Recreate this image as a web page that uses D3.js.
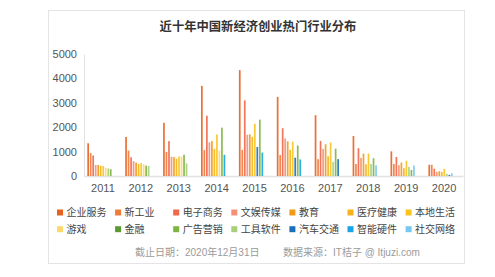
<!DOCTYPE html>
<html>
<head>
<meta charset="utf-8">
<script src="https://cdn.jsdelivr.net/npm/d3@7"></script>
<style>
  body { margin: 0; background: #fff; }
  svg { display: block; font-family: "Liberation Sans", "Noto Sans CJK SC", sans-serif; }
</style>
</head>
<body>
<div class="chart"></div>
<script>
// industries, in legend order
var industries = ["企业服务", "新工业", "电子商务", "文娱传媒", "教育", "医疗健康", "本地生活",
                  "游戏", "金融", "广告营销", "工具软件", "汽车交通", "智能硬件", "社交网络"];
var industryColors = ["#e8621f", "#ef7b3a", "#f0674b", "#f49079", "#f39a14", "#f6b21b", "#f8c41d",
                      "#fdd96c", "#5b9a33", "#7db544", "#a7d07b", "#1a70b8", "#18a4e6", "#76c9ee"];

var years = ["2011", "2012", "2013", "2014", "2015", "2016", "2017", "2018", "2019", "2020"];
var yTicks = [0, 1000, 2000, 3000, 4000, 5000];

// top 10 industries shown for each year (slot order) and their counts
var cats2011 = ["企业服务", "新工业", "电子商务", "文娱传媒", "教育", "医疗健康", "本地生活", "游戏", "工具软件", "广告营销"];
var vals2011 = [1340, 940, 840, 450, 450, 420, 410, 340, 310, 280];
var cats2012 = ["企业服务", "新工业", "电子商务", "文娱传媒", "教育", "医疗健康", "本地生活", "游戏", "广告营销", "工具软件"];
var vals2012 = [1600, 1040, 770, 610, 550, 495, 530, 480, 425, 410];
var cats2013 = ["企业服务", "新工业", "电子商务", "文娱传媒", "教育", "医疗健康", "本地生活", "游戏", "广告营销", "工具软件"];
var vals2013 = [2180, 990, 1430, 790, 780, 710, 800, 800, 870, 520];
var cats2014 = ["企业服务", "新工业", "电子商务", "文娱传媒", "教育", "医疗健康", "本地生活", "游戏", "广告营销", "智能硬件"];
var vals2014 = [3690, 1060, 2470, 1380, 1430, 1110, 1700, 1040, 1980, 870];
var cats2015 = ["企业服务", "新工业", "电子商务", "文娱传媒", "教育", "医疗健康", "本地生活", "汽车交通", "广告营销", "智能硬件"];
var vals2015 = [4340, 1070, 3100, 1690, 1710, 1600, 2140, 1190, 2310, 960];
var cats2016 = ["企业服务", "新工业", "电子商务", "文娱传媒", "教育", "医疗健康", "本地生活", "汽车交通", "广告营销", "智能硬件"];
var vals2016 = [3240, 860, 1960, 1540, 1420, 1070, 1410, 750, 1250, 680];
var cats2017 = ["企业服务", "新工业", "电子商务", "文娱传媒", "教育", "医疗健康", "本地生活", "工具软件", "广告营销", "汽车交通"];
var vals2017 = [2490, 690, 1440, 1110, 1300, 810, 1370, 580, 1120, 690];
var cats2018 = ["企业服务", "新工业", "电子商务", "文娱传媒", "教育", "医疗健康", "本地生活", "工具软件", "广告营销", "社交网络"];
var vals2018 = [1640, 490, 1140, 740, 920, 480, 920, 490, 730, 440];
var cats2019 = ["企业服务", "新工业", "电子商务", "文娱传媒", "教育", "医疗健康", "本地生活", "工具软件", "广告营销", "社交网络"];
var vals2019 = [1010, 490, 780, 440, 550, 320, 620, 370, 250, 430];
var cats2020 = ["企业服务", "新工业", "电子商务", "文娱传媒", "教育", "医疗健康", "本地生活", "工具软件", "汽车交通", "社交网络"];
var vals2020 = [460, 460, 300, 170, 195, 165, 290, 90, 45, 110];

var yearCats = [cats2011, cats2012, cats2013, cats2014, cats2015, cats2016, cats2017, cats2018, cats2019, cats2020];
var yearVals = [vals2011, vals2012, vals2013, vals2014, vals2015, vals2016, vals2017, vals2018, vals2019, vals2020];

var width = 495, height = 277;
var margin = {left: 84, right: 32, top: 54, bottom: 101};

var svg = d3.select(".chart").append("svg")
    .attr("width", width)
    .attr("height", height);

// card frame
svg.append("rect")
    .attr("x", 48.5).attr("y", 10.5)
    .attr("width", 416).attr("height", 253)
    .attr("fill", "#fff")
    .attr("stroke", "#e4e4e4");

svg.append("text")
    .attr("x", 258).attr("y", 30.5)
    .attr("text-anchor", "middle")
    .attr("font-size", 12.3)
    .attr("font-weight", "bold")
    .attr("fill", "#333")
    .text("近十年中国新经济创业热门行业分布");

var x0 = d3.scaleBand()
    .domain(years)
    .range([margin.left, width - margin.right]);

var x1 = d3.scaleBand()
    .domain(d3.range(10))
    .range([3.3, 27.6])
    .paddingInner(0.32);

var y = d3.scaleLinear()
    .domain([0, 5000])
    .range([height - margin.bottom, margin.top]);

var color = d3.scaleOrdinal()
    .domain(industries)
    .range(industryColors);

// y axis
var yAxis = svg.append("g")
    .attr("transform", "translate(" + margin.left + ",0)")
    .call(d3.axisLeft(y).tickValues(yTicks).tickSize(0).tickPadding(7).tickFormat(d3.format("d")));
yAxis.select(".domain").attr("stroke", "#e2e2e2");
yAxis.selectAll("text")
    .attr("font-size", 11)
    .attr("fill", "#555")
    .style("font-family", "Liberation Sans, sans-serif");

// x axis
var xAxis = svg.append("g")
    .attr("transform", "translate(0," + y(0) + ")")
    .call(d3.axisBottom(x0).tickSize(0).tickPadding(8));
xAxis.select(".domain").attr("stroke", "#e2e2e2").attr("stroke-width", 1.5);
xAxis.selectAll("text")
    .attr("font-size", 11)
    .attr("fill", "#555")
    .style("font-family", "Liberation Sans, sans-serif");

// bars
var groups = svg.append("g")
    .selectAll("g")
    .data(years)
    .join("g")
    .attr("transform", d => "translate(" + x0(d) + ",0)");

groups.selectAll("rect")
    .data((d, i) => yearVals[i].map((v, j) => ({cat: yearCats[i][j], value: v, slot: j})))
    .join("rect")
    .attr("x", d => x1(d.slot))
    .attr("width", x1.bandwidth())
    .attr("y", d => y(d.value))
    .attr("height", d => y(0) - y(d.value))
    .attr("fill", d => color(d.cat))
    .attr("opacity", 0.9);

// legend, 2 rows of 7
var legend = svg.append("g");
var item = legend.selectAll("g")
    .data(industries)
    .join("g")
    .attr("transform", (d, i) => "translate(" + (57 + (i % 7) * 58.1) + "," + (209.5 + Math.floor(i / 7) * 16.7) + ")");
item.append("rect")
    .attr("width", 6).attr("height", 6)
    .attr("fill", d => color(d));
item.append("text")
    .attr("x", 9.5).attr("y", 6.5)
    .attr("font-size", 10)
    .attr("fill", "#444")
    .text(d => d);

// footer
svg.append("text")
    .attr("x", 135).attr("y", 256)
    .attr("font-size", 10)
    .attr("fill", "#9a9a9a")
    .text("截止日期：2020年12月31日");
svg.append("text")
    .attr("x", 283).attr("y", 256)
    .attr("font-size", 10)
    .attr("fill", "#9a9a9a")
    .text("数据来源：IT桔子 @ Itjuzi.com");
</script>
</body>
</html>
